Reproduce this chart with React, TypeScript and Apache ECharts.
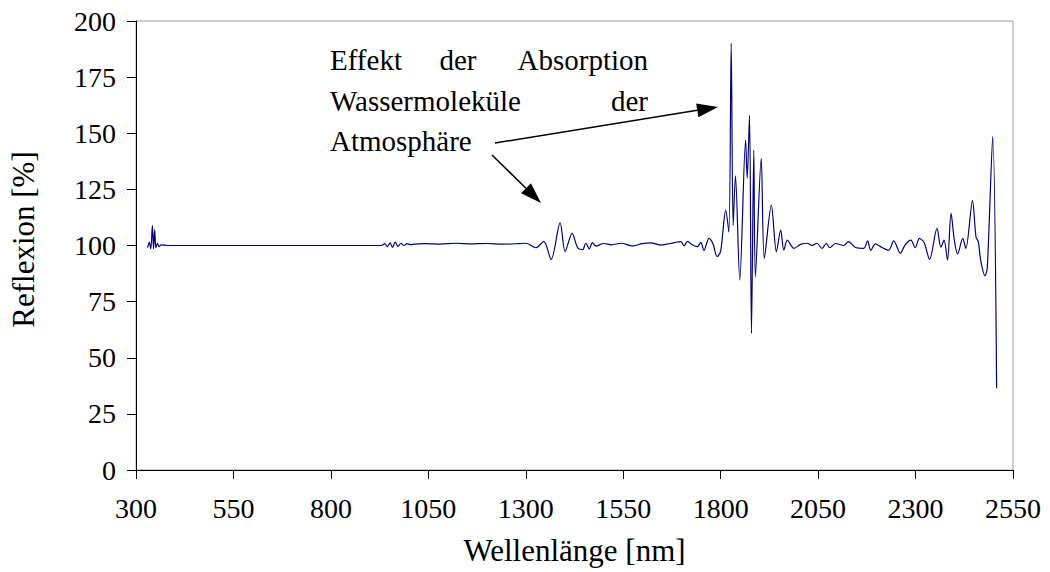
import React, { useEffect, useRef } from "react";
import * as echarts from "echarts";

const wavelengths = [
  330, 334, 338, 342, 345, 348, 351, 355, 359, 365, 380, 450, 600, 750, 900,
  930, 938, 945, 952, 958, 965, 972, 980, 988, 995, 1003, 1015, 1040, 1080,
  1120, 1160, 1200, 1240, 1280, 1300, 1326, 1346, 1365, 1388, 1401, 1419,
  1433, 1446, 1454, 1463, 1471, 1480, 1500, 1520, 1545, 1574, 1598, 1621,
  1645, 1670, 1698, 1706, 1715, 1728, 1740, 1749, 1757, 1770, 1780, 1791,
  1800, 1813, 1821, 1827, 1832, 1838, 1849, 1864, 1868, 1874, 1879, 1885,
  1889, 1904, 1912, 1930, 1943, 1954, 1962, 1971, 1988, 2005, 2022, 2035,
  2047, 2060, 2071, 2080, 2094, 2116, 2128, 2145, 2167, 2177, 2185, 2197,
  2209, 2231, 2244, 2261, 2273, 2288, 2299, 2310, 2322, 2336, 2355, 2365,
  2373, 2382, 2391, 2400, 2408, 2421, 2429, 2446, 2455, 2461, 2467, 2478,
  2484, 2498, 2508,
];

const reflexion = [
  99, 101.5, 98.5, 109, 98.5, 107, 99, 101, 99.5, 100.3, 100, 100, 100, 100,
  100, 100, 100.8, 99.5, 101.2, 99.2, 101.5, 99.6, 101, 100, 100.8, 100.4,
  100.6, 100.8, 100.6, 101, 100.7, 100.9, 100.6, 100.8, 101, 99, 101.8, 93.8,
  110.1, 97.3, 105.4, 99, 98.2, 101, 98.5, 101.3, 99.7, 100.9, 100.3, 101,
  99.8, 100.8, 101.2, 100.2, 100.9, 101.7, 99.8, 101.8, 100.2, 99.5, 101.4,
  97.8, 103.2, 100.9, 95, 97.5, 115.8, 106, 190, 109, 131, 84.6, 147, 130,
  158, 60.9, 142.5, 86.1, 138.8, 94.3, 118, 97.2, 106.9, 97.9, 102.4, 98.7,
  100.5, 101, 100, 101, 98.7, 100.9, 99, 100.9, 100, 101.7, 99.2, 98.7, 102.1,
  97.8, 100.7, 99.6, 97.9, 102.1, 96.5, 100.2, 102.4, 99, 103.2, 101.3, 93.8,
  107.6, 99.2, 102.4, 93.5, 114.3, 101.7, 96.2, 103.2, 98.7, 120, 103.9,
  101.7, 93.5, 86.5, 90, 148.5, 36.4,
];

const xTicks = { min: 300, max: 2550, interval: 250 };
const yTicks = { min: 0, max: 200, interval: 25 };

const annotationLines = [
  ["Effekt", "der", "Absorption"],
  ["Wassermoleküle", "der"],
  ["Atmosphäre"],
];

const FONT = "Liberation Serif";

function arrow(x1: number, y1: number, x2: number, y2: number) {
  const dx = x2 - x1;
  const dy = y2 - y1;
  const len = Math.sqrt(dx * dx + dy * dy);
  const ux = dx / len;
  const uy = dy / len;
  const hl = 21;
  const hw = 7;
  const bx = x2 - ux * hl;
  const by = y2 - uy * hl;
  return [
    {
      type: "line",
      shape: { x1, y1, x2: bx, y2: by },
      style: { stroke: "#000", lineWidth: 1.5 },
    },
    {
      type: "polygon",
      shape: {
        points: [
          [x2, y2],
          [bx - uy * hw, by + ux * hw],
          [bx + uy * hw, by - ux * hw],
        ],
      },
      style: { fill: "#000" },
    },
  ];
}

export default function App() {
  const ref = useRef<HTMLDivElement>(null);
  useEffect(() => {
    if (!ref.current) return;
    const chart = echarts.init(ref.current, null, { renderer: "svg" });
    const ts = { fontFamily: FONT, fontSize: 29, fill: "#000", verticalAlign: "top" };
    const lineY = [45, 86, 126];
    const graphics: any[] = [];
    graphics.push({ type: "text", x: 330, y: lineY[0], style: { ...ts, text: annotationLines[0][0], align: "left" } });
    graphics.push({ type: "text", x: 458, y: lineY[0], style: { ...ts, text: annotationLines[0][1], align: "center" } });
    graphics.push({ type: "text", x: 648, y: lineY[0], style: { ...ts, text: annotationLines[0][2], align: "right" } });
    graphics.push({ type: "text", x: 330, y: lineY[1], style: { ...ts, text: annotationLines[1][0], align: "left" } });
    graphics.push({ type: "text", x: 648, y: lineY[1], style: { ...ts, text: annotationLines[1][1], align: "right" } });
    graphics.push({ type: "text", x: 330, y: lineY[2], style: { ...ts, text: annotationLines[2][0], align: "left" } });
    graphics.push(...arrow(495, 143, 718, 107));
    graphics.push(...arrow(492, 155, 541, 203));

    chart.setOption({
      animation: false,
      backgroundColor: "#fff",
      grid: {
        left: 134,
        right: 37,
        top: 21,
        bottom: 102,
        show: true,
        borderColor: "#a0a0a0",
        borderWidth: 1,
      },
      xAxis: {
        type: "value",
        min: xTicks.min,
        max: xTicks.max,
        interval: xTicks.interval,
        name: "Wellenlänge [nm]",
        nameLocation: "middle",
        nameGap: 65,
        nameTextStyle: { fontFamily: FONT, fontSize: 31, color: "#000" },
        axisLine: { show: true, onZero: false, lineStyle: { color: "#000", width: 1 } },
        axisTick: { show: true, inside: false, length: 9, lineStyle: { color: "#000" } },
        axisLabel: {
          fontFamily: FONT,
          fontSize: 28,
          color: "#000",
          margin: 24,
          formatter: (v: number) => String(v),
        },
        splitLine: { show: false },
      },
      yAxis: {
        type: "value",
        min: yTicks.min,
        max: yTicks.max,
        interval: yTicks.interval,
        name: "Reflexion [%]",
        nameLocation: "middle",
        nameGap: 97,
        nameTextStyle: { fontFamily: FONT, fontSize: 31, color: "#000", padding: [0, 0, 0, 12] },
        axisLine: { show: true, lineStyle: { color: "#000", width: 1 } },
        axisTick: { show: true, inside: false, length: 9, lineStyle: { color: "#000" } },
        axisLabel: {
          fontFamily: FONT,
          fontSize: 28,
          color: "#000",
          margin: 20,
          formatter: (v: number) => String(v),
        },
        splitLine: { show: false },
      },
      series: [
        {
          type: "line",
          data: wavelengths.map((w, i) => [w, reflexion[i]]),
          smooth: 0.3,
          showSymbol: false,
          symbol: "none",
          lineStyle: { color: "#000080", width: 1.2 },
        },
      ],
      graphic: graphics,
    });
    return () => chart.dispose();
  }, []);
  return (
    <div
      ref={ref}
      style={{ position: "fixed", left: 0, top: 0, width: 1050, height: 572 }}
    />
  );
}
